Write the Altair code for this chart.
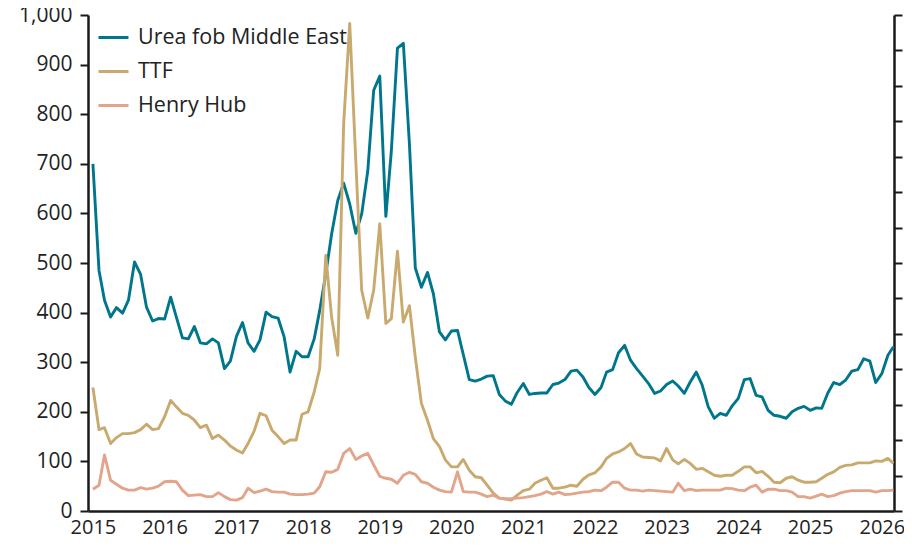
import altair as alt
import pandas as pd

# ---- data (monthly, Jan 2015 .. Mar 2026) ----
start_month = "2015-01-01"
n_months = 135

urea = [700, 485, 425, 391, 410, 399, 425, 502, 477, 411, 383, 388,
        387, 431, 391, 349, 347, 372, 339, 337, 347, 339, 287, 302,
        352, 380, 339, 322, 345, 401, 392, 389, 351, 280, 322, 311,
        311, 347, 404, 478, 559, 626, 661, 619, 560, 599, 686, 848,
        877, 594, 726, 933, 943, 740, 490, 451, 481, 438, 361, 345,
        363, 364, 316, 265, 262, 266, 272, 273, 235, 222, 215, 239,
        257, 235, 237, 238, 238, 255, 258, 265, 282, 284, 270, 249,
        235, 249, 280, 285, 319, 334, 304, 287, 272, 257, 237, 242,
        255, 262, 252, 237, 260, 280, 254, 210, 187, 197, 193, 212,
        227, 265, 267, 233, 230, 203, 193, 191, 187, 200, 207, 211,
        203, 208, 207, 238, 259, 255, 264, 282, 285, 307, 302, 259,
        277, 314, 331]

ttf = [249, 164, 168, 136, 148, 156, 156, 158, 164, 175, 164, 166,
       190, 223, 210, 197, 193, 183, 168, 173, 146, 153, 143, 131,
       123, 117, 136, 161, 197, 192, 163, 150, 136, 143, 143, 195,
       200, 240, 287, 515, 390, 314, 780, 983, 705, 445, 389, 445,
       579, 378, 388, 524, 381, 414, 310, 217, 183, 146, 130, 103,
       89, 89, 104, 82, 69, 67, 52, 36, 26, 24, 22, 32,
       41, 44, 56, 62, 67, 46, 46, 48, 52, 50, 64, 73,
       77, 89, 106, 115, 119, 126, 136, 115, 109, 108, 107, 101,
       126, 103, 95, 104, 96, 84, 86, 79, 72, 70, 72, 72,
       80, 89, 89, 77, 80, 70, 58, 57, 66, 69, 62, 58,
       58, 59, 66, 74, 79, 88, 92, 93, 97, 97, 97, 101,
       100, 106, 96]

henry_hub = [44, 52, 113, 62, 54, 46, 42, 42, 47, 44, 46, 50,
             59, 60, 59, 42, 31, 32, 33, 29, 29, 37, 29, 23,
             22, 27, 46, 37, 40, 44, 39, 38, 38, 34, 33, 33,
             34, 36, 49, 79, 78, 84, 116, 126, 104, 111, 116, 93,
             70, 66, 64, 56, 72, 78, 74, 59, 56, 48, 42, 39,
             38, 79, 39, 38, 38, 34, 29, 32, 26, 25, 25, 26,
             27, 29, 31, 34, 39, 34, 38, 33, 34, 36, 38, 39,
             42, 41, 48, 58, 58, 46, 42, 42, 40, 42, 41, 40,
             39, 38, 56, 41, 44, 41, 42, 42, 42, 42, 46, 45,
             42, 41, 48, 52, 38, 44, 44, 41, 41, 38, 29, 29,
             26, 30, 34, 29, 31, 36, 39, 41, 41, 41, 41, 38,
             41, 41, 42]

series_names = ["Urea fob Middle East", "TTF", "Henry Hub"]
series_colors = ["#00768D", "#C9AA6E", "#E2A48B"]
y_ticks = [0, 100, 200, 300, 400, 500, 600, 700, 800, 900, 1000]
right_tick_count = 14
year_ticks = list(range(2015, 2027))
x_domain = ["2014-12-07", "2026-03-04"]

# ---- table ----
dates = pd.date_range(start_month, periods=n_months, freq="MS").strftime("%Y-%m-%d")
frames = []
for i, (name, vals) in enumerate(zip(series_names, [urea, ttf, henry_hub])):
    frames.append(pd.DataFrame({"date": dates, "value": vals, "series": name, "order": i}))
df = pd.concat(frames, ignore_index=True)

right_values = [i * 1000 / right_tick_count for i in range(right_tick_count + 1)]

x_enc = alt.X(
    "date:T",
    scale=alt.Scale(domain=x_domain),
    axis=alt.Axis(
        values=[alt.DateTime(year=y, month=1, date=1) for y in year_ticks],
        format="%Y", ticks=False, tickSize=0, labelPadding=6, labelFontSize=20,
        grid=False, title=None, labelFlush=False, labelOverlap=False,
    ),
)

lines = alt.Chart(df).mark_line(strokeWidth=2.9, strokeJoin="round").encode(
    x=x_enc,
    y=alt.Y(
        "value:Q",
        scale=alt.Scale(domain=[0, 1000], nice=False, zero=True),
        axis=alt.Axis(values=y_ticks, format=",.0f", tickSize=8, labelPadding=8,
                      grid=False, title=None),
    ),
    color=alt.Color(
        "series:N",
        scale=alt.Scale(domain=series_names, range=series_colors),
        legend=alt.Legend(title=None),
    ),
    order=alt.Order("order:Q"),
)

right_axis = alt.Chart(df).mark_line(opacity=0).encode(
    x=x_enc,
    y=alt.Y(
        "value:Q",
        scale=alt.Scale(domain=[0, 1000], nice=False, zero=True),
        axis=alt.Axis(orient="right", values=right_values, labels=False,
                      tickSize=8, grid=False, title=None),
    ),
    detail="series:N",
)

chart = (
    alt.layer(lines, right_axis)
    .resolve_axis(y="independent")
    .properties(
        width=806,
        height=496,
        padding={"left": 80, "top": 7, "right": 10, "bottom": 28},
        autosize=alt.AutoSizeParams(type="none"),
    )
    .configure_view(stroke=None)
    .configure_axis(
        labelFont="Open Sans",
        labelFontSize=21,
        labelColor="#222222",
        domainColor="#1a1a1a",
        domainWidth=2.5,
        tickColor="#1a1a1a",
        tickWidth=2,
    )
    .configure_legend(
        orient="none",
        legendX=9,
        legendY=6,
        padding=0,
        symbolType="stroke",
        symbolSize=900,
        symbolStrokeWidth=3,
        labelFont="Open Sans",
        labelFontSize=21.5,
        labelColor="#222222",
        labelOffset=8,
        labelLimit=400,
        rowPadding=7,
    )
)

chart.save("out.html", embed_options={"renderer": "svg", "actions": False})
